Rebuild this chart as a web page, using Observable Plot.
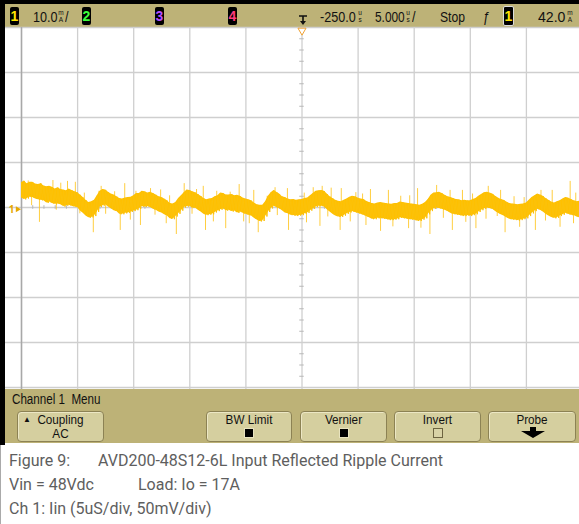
<!DOCTYPE html>
<html><head><meta charset="utf-8">
<script src="https://cdn.jsdelivr.net/npm/d3@7"></script>
<script src="https://cdn.jsdelivr.net/npm/@observablehq/plot@0.6"></script>
<style>
html,body{margin:0;padding:0;}
body{width:579px;height:524px;overflow:hidden;background:#fff;position:relative;
 font-family:"Liberation Sans",Arial,sans-serif;}
.abs{position:absolute;}
#topblack{left:0;top:0;width:579px;height:4px;background:#000;}
#leftblack{left:0;top:0;width:5px;height:445px;background:#000;z-index:5;}
#bar{left:5px;top:4px;width:574px;height:23px;background:#bdb277;}
#chart{left:0;top:27px;}
#menu{left:5px;top:389px;width:574px;height:54px;background:#bdb277;}
.t{position:absolute;top:9px;font-size:15px;line-height:15px;color:#111;white-space:pre;transform:scaleX(.84);transform-origin:0 0;}
.u{position:absolute;font-size:6.5px;line-height:7px;width:6px;text-align:center;color:#111;}
.box{position:absolute;top:7px;width:9px;height:18px;background:#000;border-radius:2px;font-size:14px;line-height:18px;text-align:center;font-weight:bold;}
.btn{position:absolute;top:411px;height:29px;background:#d5cf9f;border:1px solid #8c8254;border-radius:4px;box-shadow:inset 1px 1px 0 #ece7c4;color:#111;}
.lbl{position:absolute;left:0;width:100%;top:0;font-size:13px;line-height:15px;text-align:center;transform:scaleX(.9);white-space:nowrap;}
.chk{position:absolute;left:50%;top:16px;width:8px;height:8px;margin-left:-5px;border:1px solid #6d6440;}
#caption{left:0;top:445px;width:579px;height:79px;border-left:1px solid #aaa;}
.cap{position:absolute;font-family:Roboto,"Liberation Sans",sans-serif;font-size:16px;color:#5e5e5e;white-space:pre;}
</style></head>
<body>
<div id="topblack" class="abs"></div>
<div id="leftblack" class="abs"></div>
<div id="bar" class="abs"></div>
<div class="box" style="left:10px;color:#ffe400">1</div>
<div class="t" style="left:33px">10.0</div>
<div class="u" style="left:58px;top:9px">m</div><div class="u" style="left:58px;top:16px">A</div>
<div class="t" style="left:65px">/</div>
<div class="box" style="left:82px;color:#3cff3c">2</div>
<div class="box" style="left:155px;color:#b54cff">3</div>
<div class="box" style="left:228px;color:#ff3a7a">4</div>
<svg class="abs" style="left:298px;top:13px" width="10" height="14"><path d="M1 3 H9 M5 3 V10" stroke="#111" stroke-width="1.6" fill="none"/><path d="M2 8 L5 12 L8 8 Z" fill="#111"/></svg>
<div class="t" style="left:320px">-250.0</div>
<div class="u" style="left:357px;top:9px">u</div><div class="u" style="left:357px;top:16px">s</div>
<div class="t" style="left:375px;transform:scaleX(.79)">5.000</div>
<div class="u" style="left:405px;top:9px">u</div><div class="u" style="left:405px;top:16px">s</div>
<div class="t" style="left:412px">/</div>
<div class="t" style="left:440px;transform:scaleX(.81)">Stop</div>
<div class="t" style="left:483px">ƒ</div>
<div class="box" style="left:503px;color:#ffe400;border:1px solid #ddd;top:6px">1</div>
<div class="t" style="left:538px;transform:scaleX(.94)">42.0</div>
<div class="u" style="left:567px;top:9px">m</div><div class="u" style="left:567px;top:16px">A</div>

<div id="chart" class="abs"></div>

<div id="menu" class="abs"></div>
<div class="t" style="left:12px;top:392px;font-size:14px;transform:scaleX(.83)">Channel 1  Menu</div>
<div class="btn" style="left:17px;width:85px"><span style="position:absolute;left:5px;top:3px;font-size:8px;line-height:9px">▲</span><div class="lbl">Coupling</div><div class="lbl" style="top:14px">AC</div></div>
<div class="btn" style="left:206px;width:84px"><div class="lbl">BW Limit</div><div class="chk" style="background:#000;border-color:#e8e3bf"></div></div>
<div class="btn" style="left:300px;width:85px"><div class="lbl">Vernier</div><div class="chk" style="background:#000;border-color:#e8e3bf"></div></div>
<div class="btn" style="left:394px;width:85px"><div class="lbl">Invert</div><div class="chk" style="background:#d9d3a6"></div></div>
<div class="btn" style="left:488px;width:86px"><div class="lbl">Probe</div><svg style="position:absolute;left:31px;top:15px" width="26" height="12"><path d="M10 0 H16 V4 H25 L13 11 L1 4 H10 Z" fill="#000"/></svg></div>

<div id="caption" class="abs">
<div class="cap" style="left:8px;top:6px">Figure 9:</div>
<div class="cap" style="left:97px;top:6px">AVD200-48S12-6L Input Reflected Ripple Current</div>
<div class="cap" style="left:8px;top:30px">Vin = 48Vdc</div>
<div class="cap" style="left:137px;top:30px">Load: Io = 17A</div>
<div class="cap" style="left:8px;top:54px">Ch 1: Iin (5uS/div, 50mV/div)</div>
</div>

<script>
// Channel 1 trace, sampled every 0.25 µs across the 50 µs screen (10 div x 5 µs)
const sampleStepUs = 0.25;
// upper envelope of the noisy trace, mA (relative to screen centre)
const traceHi = [
 5.5,5.9, 5.3,5.6, 5.6,5.2, 5.1,5.3, 4.8,4.6, 4.7,4.5, 4.1,4.4, 4.0,3.9, 3.7,4.1, 3.8,3.5,
 3.3,2.8, 2.2,1.6, 1.1,1.3, 1.6,2.6, 3.6,4.0, 3.9,3.4, 3.0,2.8, 2.4,2.0, 1.9,2.1, 2.2,2.3,
 2.6,3.1, 3.1,3.6, 3.5,3.2, 3.4,3.1, 2.8,2.4, 2.2,1.9, 1.5,0.9, 0.8,1.1, 2.0,2.6, 3.3,3.9,
 3.8,3.5, 3.3,2.9, 2.5,2.0, 1.7,1.9, 2.0,2.4, 2.6,3.2, 3.1,2.8, 2.8,2.9, 2.6,2.7, 2.5,2.1,
 1.9,1.7, 1.5,1.0, 0.6,0.5, 0.5,1.3, 2.5,3.3, 3.8,3.4, 3.0,2.4, 2.2,1.9, 1.7,1.8, 1.6,1.7,
 1.8,2.0, 2.1,2.6, 3.1,3.6, 3.7,3.8, 3.6,3.0, 2.4,2.0, 1.6,1.4, 1.3,1.6, 1.9,2.3, 2.5,2.4,
 2.1,1.9, 1.8,1.4, 1.1,0.9, 0.8,1.0, 1.1,1.0, 0.9,0.8, 0.7,0.9, 0.9,1.2, 1.1,1.0, 0.9,0.8,
 0.7,0.6, 0.5,0.7, 1.1,1.8, 2.7,3.2, 3.3,3.4, 3.1,2.7, 2.4,2.2, 2.0,1.8, 1.7,1.5, 1.6,1.5,
 1.5,1.8, 2.0,2.5, 2.9,3.3, 3.4,3.2, 3.0,2.5, 2.1,1.8, 1.6,1.2, 0.9,0.8, 0.7,0.6, 0.7,0.8,
 1.0,1.6, 2.2,2.6, 3.0,2.8, 2.5,2.0, 1.6,1.2, 1.0,1.3, 1.5,1.9, 2.2,2.1, 1.8,1.5, 1.3,1.4
];
// lower envelope, mA
const traceLo = [
 2.1,1.8, 2.0,2.3, 2.2,1.9, 1.7,1.6, 1.5,1.0, 1.2,0.9, 0.7,0.8, 0.6,0.2, 0.4,0.5, 0.3,0.1,
 0.0,-0.8, -1.3,-1.9, -2.3,-2.2, -1.9,-1.0, 0.1,0.4, 0.6,0.1, -0.3,-0.7, -0.9,-1.5, -1.5,-1.3, -1.2,-1.0,
 -0.8,-0.6, -0.3,0.2, 0.1,0.2, 0.0,-0.4, -0.6,-1.0, -1.2,-1.6, -1.9,-2.5, -2.6,-2.0, -1.4,-0.7, 0.0,0.2,
 0.3,-0.1, -0.1,-0.6, -1.0,-1.5, -1.7,-1.6, -1.5,-1.1, -0.8,-0.5, -0.3,-0.7, -0.6,-0.9, -0.8,-1.2, -1.0,-1.3,
 -1.5,-1.7, -1.9,-2.4, -2.8,-3.1, -3.0,-2.0, -1.0,-0.2, 0.3,0.0, -0.3,-0.7, -1.2,-1.4, -1.7,-1.8, -1.9,-1.8,
 -1.7,-1.4, -1.2,-0.7, -0.3,0.1, 0.3,0.3, 0.1,-0.5, -1.0,-1.5, -1.9,-2.1, -2.1,-1.8, -1.4,-1.1, -0.9,-1.1,
 -1.3,-1.5, -1.7,-2.0, -2.3,-2.6, -2.6,-2.4, -2.4,-2.5, -2.6,-2.8, -2.8,-2.7, -2.6,-2.3, -2.4,-2.5, -2.6,-2.7,
 -2.8,-3.0, -3.0,-2.7, -2.4,-1.5, -0.8,-0.3, -0.1,-0.2, -0.4,-0.6, -0.9,-1.3, -1.5,-1.6, -1.7,-1.9, -1.9,-1.8,
 -1.9,-1.7, -1.5,-1.0, -0.6,-0.3, -0.1,-0.2, -0.4,-0.9, -1.3,-1.6, -1.9,-2.3, -2.6,-2.7, -2.8,-2.9, -2.8,-2.6,
 -2.4,-1.9, -1.3,-0.8, -0.4,-0.6, -1.0,-1.5, -1.9,-2.2, -2.4,-2.3, -1.9,-1.6, -1.3,-1.5, -1.7,-1.8, -2.1,-2.3
];
// noise spikes: time since left edge (µs) and peak value (mA)
const spikeUpAt  = [0.6, 1.7, 2.8, 3.5, 4.1, 4.8, 5.6, 6.9, 7.1, 8.3, 9.2, 10.2, 11.5, 12.4, 13.2, 14.5, 15.6, 16.2, 17.4, 18.6, 19.4, 20.7, 21.9, 22.6, 23.7, 25.2, 26.0, 26.8, 27.6, 28.5, 29.8, 30.4, 31.1, 32.7, 33.8, 34.6, 35.3, 36.3, 37.0, 38.2, 39.3, 40.2, 41.6, 42.7, 43.9, 44.8, 46.3, 47.3, 48.9, 49.4];
const spikeUpVal = [5.9, 5.3, 6.0, 5.4, 5.8, 5.6, 3.2, 3.6, 4.7, 3.5, 5.3, 3.6, 4.2, 3.9, 2.6, 5.3, 4.0, 4.7, 3.6, 3.4, 5.1, 3.8, 2.5, 4.4, 4.2, 3.2, 4.4, 4.7, 4.3, 4.2, 3.3, 3.0, 4.0, 3.8, 2.5, 2.6, 4.2, 2.0, 4.9, 3.8, 3.8, 3.0, 4.7, 3.8, 2.4, 2.2, 3.8, 3.8, 5.8, 3.2];
const spikeDnAt  = [0.9, 1.6, 3.1, 5.2, 6.4, 7.5, 8.8, 9.7, 10.6, 11.9, 12.9, 13.8, 15.2, 16.4, 17.1, 18.2, 19.8, 20.3, 21.1, 22.8, 23.8, 25.4, 26.6, 27.3, 28.4, 29.3, 30.7, 32.0, 33.1, 34.5, 35.6, 36.4, 37.6, 38.4, 39.6, 40.5, 41.4, 42.4, 43.1, 44.4, 45.8, 46.7, 48.0, 49.2];
const spikeDnVal = [0.4, -3.3, -0.6, -1.4, -5.6, -1.5, -5.1, -2.8, -4.0, -1.7, -3.6, -6.0, -1.5, -5.1, -3.2, -4.7, -3.2, -3.6, -5.6, -1.8, -5.1, -3.4, -4.2, -2.1, -5.1, -3.2, -4.0, -5.3, -4.3, -4.7, -4.6, -6.0, -2.4, -5.1, -3.3, -4.7, -2.6, -2.0, -5.6, -4.4, -5.1, -3.0, -4.4, -3.6];
// graticule: 10 divisions of 5 µs, 8 divisions of 10 mA
const gridTimes = [0, 5, 10, 15, 20, 25, 30, 35, 40, 45, 50];
const gridLevels = [-40, -30, -20, -10, 0, 10, 20, 30, 40];
const minorTimes = d3.range(0, 50.01, 1).filter(v => v % 5 !== 0);
const minorLevels = d3.range(-40, 40.01, 2.5).filter(v => v % 10 !== 0);
const triggerTime = 25;

const trace = traceHi.map((h, i) => ({t: i * sampleStepUs, hi: h, lo: traceLo[i]}));
const zig = trace.flatMap(d => [{t: d.t, v: d.hi}, {t: d.t + sampleStepUs / 2, v: d.lo}]);
const mid = t => { const k = Math.max(0, Math.min(trace.length - 1, Math.round(t / sampleStepUs))); return (trace[k].hi + trace[k].lo) / 2; };
const spikes = [
  ...spikeUpAt.map((t, i) => ({t, v: spikeUpVal[i]})),
  ...spikeDnAt.map((t, i) => ({t, v: spikeDnVal[i]}))
].map(s => ({...s, base: mid(s.t)}));

const yellow = "#ffc000";
const chart = Plot.plot({
  width: 579, height: 362,
  marginTop: 0, marginRight: 0, marginBottom: 0, marginLeft: 0,
  x: {domain: [0, 50], range: [21, 582], axis: null},
  y: {domain: [-40, 40], range: [360, 0], axis: null},
  style: {background: "#fff", overflow: "visible"},
  marks: [
    Plot.ruleX(gridTimes, {x: d => d, stroke: "#cfcfcf", strokeWidth: 1.3, strokeOpacity: 1}),
    Plot.ruleY(gridLevels, {y: d => d, stroke: "#cfcfcf", strokeWidth: 1.3, strokeOpacity: 1}),
    Plot.ruleX([0], {x: d => d, stroke: "#a8a8a8", strokeWidth: 1.5}),
    Plot.ruleY(minorLevels, {y: d => d, x1: triggerTime - 0.2, x2: triggerTime + 0.2, stroke: "#b8b8b8"}),
    Plot.ruleX(minorTimes, {x: d => d, y1: -0.4, y2: 0.4, stroke: "#b8b8b8"}),
    Plot.ruleX(spikes, {x: "t", y1: "base", y2: "v", stroke: "#ffc51f", strokeWidth: 1, strokeOpacity: 0.85}),
    Plot.areaY(trace, {x: "t", y1: "lo", y2: "hi", fill: yellow, fillOpacity: 1}),
    Plot.line(zig, {x: "t", y: "v", stroke: "#fcc20a", strokeWidth: 1}),
    Plot.text(["1"], {x: 0, y: -0.4, dx: -10, text: d => d, fill: "#e6a800", fontSize: 10, fontWeight: "bold"}),
    Plot.dot([0], {x: 0, y: -0.4, dx: -4, symbol: "triangle", r: 2.2, rotate: 90, fill: "#e6a800", stroke: "none"}),
    Plot.dot([triggerTime], {x: d => d, y: 40, dy: 3, symbol: "triangle", r: 3, rotate: 180, fill: "#fff", stroke: "#f0a030", strokeWidth: 1})
  ]
});
document.getElementById("chart").appendChild(chart);
</script>
</body></html>
